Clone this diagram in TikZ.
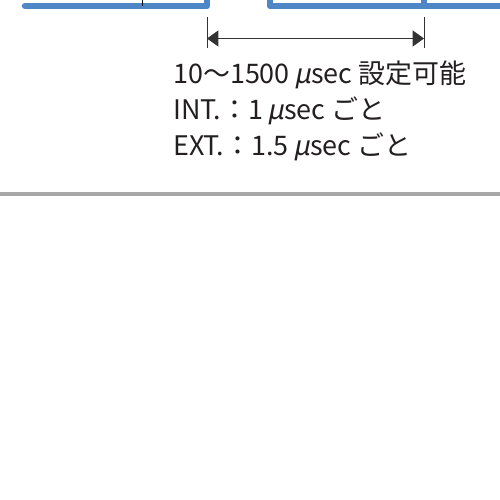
\documentclass[tikz,border=0pt]{standalone}
\usepackage{fontspec}
\setmainfont{Noto Sans CJK JP}
\newfontfamily\mufont[FakeSlant=0.2]{Noto Sans CJK JP}
\usepackage{tikz}
\usetikzlibrary{arrows.meta}
\definecolor{pulsoazul}{RGB}{78,134,198}
\definecolor{reglagris}{RGB}{168,168,168}
\definecolor{textonegro}{RGB}{35,31,32}
\newcommand{\usec}{{\mufont μ}sec}

\begin{document}
\begin{tikzpicture}[x=0.75pt, y=-0.75pt, >=Triangle,
    pulso/.style={draw=pulsoazul, line width=4.9pt, line cap=round, line join=round},
    cota/.style={draw=black!80, line width=0.75pt},
    flecha/.style={cota, {Triangle[length=8.5pt,width=12pt]}-{Triangle[length=8.5pt,width=12pt]}},
    nota/.style={anchor=base west, inner sep=0pt, text=textonegro, font=\fontsize{20.2}{24}\selectfont}]
    \useasboundingbox (0,0) rectangle (500,500);
    \clip (0,0) rectangle (500,500);
    % pulsos (solo se ve la parte baja)
    \draw[pulso] (25,6) -- (207,6) -- (207,-10);
    \draw[pulso] (270,-10) -- (270,6) -- (515,6);
    \draw[pulsoazul, line width=4pt] (424,6) -- (424,-10);
    \draw[black, line width=0.75pt] (142.7,-1) -- (142.7,6);
    % cota del intervalo
    \coordinate (cotaA) at (207,38.5);
    \coordinate (cotaB) at (424,38.5);
    \draw[cota] (207,17) -- (207,48);
    \draw[cota] (424,17) -- (424,48);
    \draw[flecha] (cotaA) -- (cotaB);
    % texto
    \node[nota] (rango) at (173,83) {10～1500\,\usec{} 設定可能};
    \node[nota] (paso1) at (173,119) {INT.：1\,\usec{} ごと};
    \node[nota] (paso2) at (173,155) {EXT.：1.5\,\usec{} ごと};
    % linea gris de separacion
    \draw[reglagris, line width=3pt] (0,193.5) -- (500,193.5);
\end{tikzpicture}
\end{document}
